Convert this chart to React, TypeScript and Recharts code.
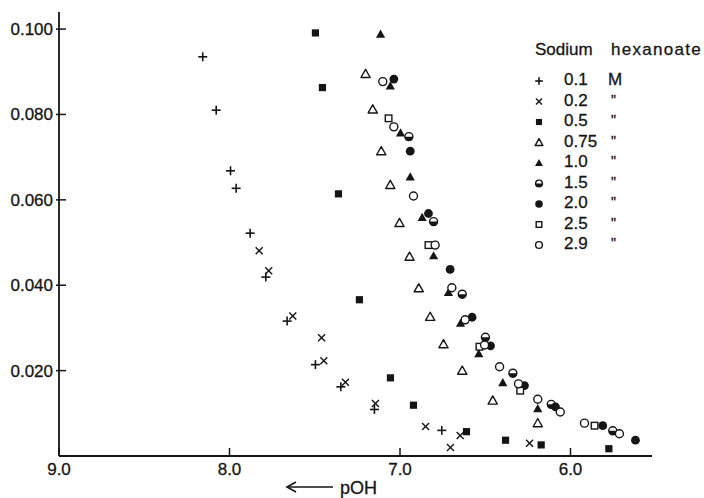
import { Legend, Scatter, ScatterChart, XAxis, YAxis } from 'recharts'

// concentration labels (sodium hexanoate, M)
const CONC = ['0.1', '0.2', '0.5', '0.75', '1.0', '1.5', '2.0', '2.5', '2.9']
const UNITS = ['M', '"', '"', '"', '"', '"', '"', '"', '"']
const MARKERS = ['plus', 'cross', 'square', 'triOpen', 'triFill', 'half', 'circleFill', 'squareOpen', 'circleOpen']

// [pOH, value]
const c01 = [[8.157, 0.0935], [8.078, 0.081], [7.994, 0.0668], [7.961, 0.0627], [7.879, 0.0522], [7.787, 0.0419], [7.662, 0.0316], [7.496, 0.0214], [7.347, 0.0162], [7.15, 0.0109], [6.755, 0.006]]
const c02 = [[7.826, 0.0481], [7.77, 0.0434], [7.629, 0.0328], [7.46, 0.0277], [7.447, 0.0223], [7.32, 0.0173], [7.144, 0.0123], [6.85, 0.0069], [6.704, 0.002], [6.647, 0.0048], [6.24, 0.003]]
const c05 = [[7.496, 0.0991], [7.455, 0.0863], [7.361, 0.0614], [7.238, 0.0366], [7.056, 0.0183], [6.921, 0.0119], [6.61, 0.0057], [6.381, 0.0037], [6.172, 0.0026], [5.775, 0.0017]]
const c075 = [[7.202, 0.0895], [7.16, 0.0812], [7.11, 0.0714], [7.057, 0.0635], [7.003, 0.0546], [6.944, 0.0467], [6.89, 0.0393], [6.823, 0.0326], [6.745, 0.0262], [6.635, 0.02], [6.456, 0.013], [6.192, 0.0077]]
const c10 = [[7.114, 0.0988], [7.057, 0.0867], [6.997, 0.0757], [6.94, 0.0654], [6.87, 0.0559], [6.803, 0.0469], [6.716, 0.0383], [6.645, 0.0311], [6.538, 0.024], [6.397, 0.0172], [6.192, 0.0111]]
const c15 = [[6.948, 0.0748], [6.803, 0.0549], [6.635, 0.0379], [6.499, 0.0278], [6.338, 0.0194], [6.113, 0.0121], [5.752, 0.0059]]
const c20 = [[7.036, 0.0883], [6.94, 0.0714], [6.833, 0.0568], [6.706, 0.0437], [6.577, 0.0325], [6.469, 0.0258], [6.27, 0.0165], [6.088, 0.0115], [5.811, 0.0071], [5.619, 0.0037]]
const c25 = [[7.067, 0.0791], [6.833, 0.0494], [6.534, 0.0256], [6.295, 0.0153], [5.859, 0.0071]]
const c29 = [[7.101, 0.0877], [7.036, 0.0771], [6.921, 0.0609], [6.794, 0.0494], [6.696, 0.0394], [6.618, 0.0319], [6.504, 0.026], [6.416, 0.0209], [6.305, 0.0169], [6.192, 0.0133], [6.06, 0.0103], [5.918, 0.0077], [5.713, 0.0052]]

const SERIES = [c01, c02, c05, c075, c10, c15, c20, c25, c29]

const X_TICKS = [9, 8, 7, 6]
const Y_TICKS = [0.02, 0.04, 0.06, 0.08, 0.1]

const INK = '#151515'
const FONT = '"Liberation Sans", Arial, sans-serif'
// scanned print looks a bit heavier than the regular face
const TEXT = { fill: INK, stroke: INK, strokeWidth: 0.3, fontFamily: FONT }

function Marker({ kind, cx, cy, k = 1 }: { kind: string; cx: number; cy: number; k?: number }) {
  const r = 4 * k
  switch (kind) {
    case 'plus':
      return (
        <g stroke={INK} strokeWidth={1.6}>
          <line x1={cx - 4.5 * k} x2={cx + 4.5 * k} y1={cy} y2={cy} />
          <line x1={cx} x2={cx} y1={cy - 4.5 * k} y2={cy + 4.5 * k} />
        </g>
      )
    case 'cross':
      return (
        <g stroke={INK} strokeWidth={1.4}>
          <line x1={cx - 3.5 * k} x2={cx + 3.5 * k} y1={cy - 3.5 * k} y2={cy + 3.5 * k} />
          <line x1={cx - 3.5 * k} x2={cx + 3.5 * k} y1={cy + 3.5 * k} y2={cy - 3.5 * k} />
        </g>
      )
    case 'square':
      return <rect x={cx - 3.6 * k} y={cy - 3.6 * k} width={7.2 * k} height={7.2 * k} fill={INK} />
    case 'squareOpen':
      return <rect x={cx - 3.3 * k} y={cy - 3.3 * k} width={6.6 * k} height={6.6 * k} fill='#fff' stroke={INK} strokeWidth={1.4} />
    case 'triOpen':
    case 'triFill': {
      const pts = `${cx},${cy - 4.6 * k} ${cx - 4.6 * k},${cy + 3.6 * k} ${cx + 4.6 * k},${cy + 3.6 * k}`
      return kind === 'triFill'
        ? <polygon points={pts} fill={INK} />
        : <polygon points={pts} fill='#fff' stroke={INK} strokeWidth={1.4} strokeLinejoin='round' />
    }
    case 'half':
      return (
        <g>
          <circle cx={cx} cy={cy} r={r} fill='#fff' stroke={INK} strokeWidth={1.4} />
          <path d={`M${cx - r},${cy} A${r},${r} 0 0 0 ${cx + r},${cy} Z`} fill={INK} />
        </g>
      )
    case 'circleFill':
      return <circle cx={cx} cy={cy} r={r + 0.4} fill={INK} />
    default:
      return <circle cx={cx} cy={cy} r={r} fill='#fff' stroke={INK} strokeWidth={1.4} />
  }
}

const XTick = (props: any) => {
  const { x, y, payload } = props
  return (
    <g>
      <line x1={x} x2={x} y1={y} y2={y - 8} stroke={INK} strokeWidth={1.5} />
      <text x={x} y={y + 13} dy='0.35em' textAnchor='middle' fontSize={17} {...TEXT}>
        {payload.value.toFixed(1)}
      </text>
    </g>
  )
}

const YTick = (props: any) => {
  const { x, y, payload } = props
  return (
    <g>
      <line x1={x - 3} x2={x + 7} y1={y} y2={y} stroke={INK} strokeWidth={1.5} />
      <text x={x - 6} y={y} dy='0.35em' textAnchor='end' fontSize={17} {...TEXT}>
        {payload.value.toFixed(3)}
      </text>
    </g>
  )
}

const PohLabel = () => (
  <g>
    <g stroke={INK} strokeWidth={1.6} fill='none'>
      <line x1={287} x2={333} y1={487} y2={487} />
      <polyline points='296,482 287,487 296,492' />
    </g>
    <text x={340} y={494} fontSize={18} {...TEXT}>pOH</text>
  </g>
)

const LegendBox = () => (
  <svg width={184} height={230} style={{ overflow: 'visible' }}>
    <text x={15} y={25} fontSize={17} {...TEXT}>
      Sodium<tspan x={91} letterSpacing={1.3}>hexanoate</tspan>
    </text>
    {CONC.map((c, i) => {
      const cy = 51 + i * 20.5
      return (
        <g key={c}>
          <Marker kind={MARKERS[i]} cx={19} cy={cy} k={0.85} />
          <text x={44} y={cy + 4} fontSize={17} {...TEXT}>{c}</text>
          <text x={i === 0 ? 88 : 91} y={i === 0 ? cy + 4 : cy + 3} fontSize={i === 0 ? 17 : 14} {...TEXT}>
            {UNITS[i]}
          </text>
        </g>
      )
    })}
  </svg>
)

export default function App() {
  return (
    <div style={{ position: 'absolute', left: 0, top: 0, background: '#fff' }}>
      <ScatterChart width={704} height={498} margin={{ top: 12, right: 52, bottom: 0, left: 0 }}>
        <XAxis
          type='number'
          dataKey='x'
          domain={[5.522, 9]}
          reversed
          allowDataOverflow
          ticks={X_TICKS}
          tickSize={0}
          tickMargin={0}
          tickLine={false}
          tick={<XTick />}
          height={42}
          axisLine={{ stroke: INK, strokeWidth: 1.8 }}
          label={{ content: <PohLabel /> }}
        />
        <YAxis
          type='number'
          dataKey='y'
          domain={[0, 0.104]}
          allowDataOverflow
          ticks={Y_TICKS}
          tickSize={0}
          tickMargin={0}
          tickLine={false}
          tick={<YTick />}
          width={59}
          axisLine={{ stroke: INK, strokeWidth: 1.8 }}
        />
        <Legend
          layout='vertical'
          align='center'
          verticalAlign='middle'
          content={<LegendBox />}
          wrapperStyle={{ left: 520, top: 30, width: 184, height: 230 }}
        />
        {SERIES.map((pts, i) => (
          <Scatter
            key={CONC[i]}
            name={CONC[i]}
            data={pts.map(([x, y]) => ({ x, y }))}
            isAnimationActive={false}
            shape={(p: any) => <Marker kind={MARKERS[i]} cx={p.cx} cy={p.cy} />}
          />
        ))}
      </ScatterChart>
    </div>
  )
}
